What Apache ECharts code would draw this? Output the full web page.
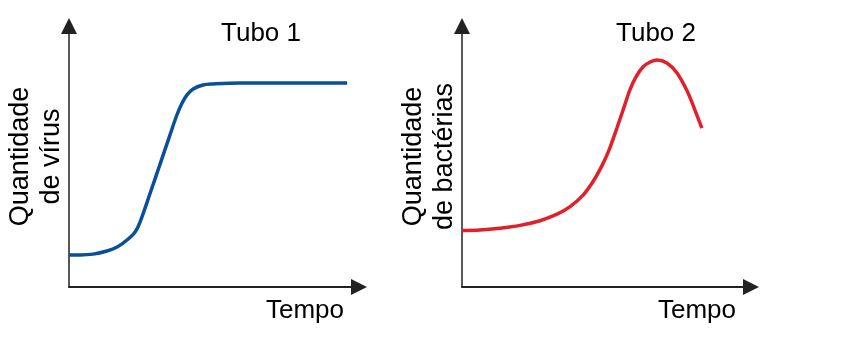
<!DOCTYPE html>
<html>
<head>
    <meta charset="utf-8">
    <title>Tubo 1 e Tubo 2</title>
    <script src="https://cdn.jsdelivr.net/npm/echarts@6/dist/echarts.min.js"></script>
    <style>
        html, body { margin: 0; padding: 0; background: #fff; }
        #main { width: 853px; height: 353px; }
    </style>
</head>
<body>
    <div id="main"></div>
    <script type="text/javascript">
        // Tubo 1 - quantidade de vírus ao longo do tempo
        var tempo1 = [0, 3.8, 8.3, 13.1, 16.6, 20.0, 22.8, 24.5, 28.0, 31.4, 34.8, 37.2, 39.0, 40.7, 42.8, 46.2, 49.7, 59.0, 95.9];
        var virus = [12.3, 12.3, 12.6, 13.8, 15.3, 18.0, 21.1, 24.9, 36.0, 47.1, 58.2, 65.9, 70.5, 73.6, 75.9, 77.4, 77.8, 78.2, 78.2];

        // Tubo 2 - quantidade de bactérias ao longo do tempo
        var tempo2 = [0, 6.2, 13.1, 20.1, 27.0, 32.9, 37.4, 41.9, 45.3, 48.4, 50.9, 53.6, 56.1, 58.1, 60.2, 62.6, 65.1, 67.5, 70.9, 74.4, 77.9, 80.6, 83.0];
        var bacterias = [21.6, 21.8, 22.5, 23.6, 25.4, 27.9, 30.8, 35.2, 40.3, 46.4, 52.5, 60.9, 69.0, 75.5, 80.5, 84.3, 86.2, 87.0, 85.8, 82.0, 75.1, 67.8, 60.9];

        var titulos = ['Tubo 1', 'Tubo 2'];
        var nomesY = ['Quantidade\nde vírus', 'Quantidade\nde bactérias'];
        var nomeX = 'Tempo';

        var fonte = "'Liberation Sans', Arial, sans-serif";

        function pares(xs, ys) {
            return xs.map(function (x, i) { return [x, ys[i]]; });
        }

        function eixoX(idx) {
            return {
                type: 'value', gridIndex: idx, min: 0, max: 100,
                name: nomeX, nameLocation: 'end', nameGap: -15,
                nameTextStyle: {
                    fontFamily: fonte, fontSize: 26, color: '#000',
                    align: 'right', verticalAlign: 'top', padding: [11, 0, 0, 0]
                },
                axisLine: {
                    symbol: ['none', 'triangle'], symbolSize: [16, 16],
                    lineStyle: { color: '#222', width: 2 }
                },
                axisTick: { show: false }, axisLabel: { show: false }, splitLine: { show: false }
            };
        }

        function eixoY(idx) {
            return {
                type: 'value', gridIndex: idx, min: 0, max: 100,
                name: nomesY[idx], nameLocation: 'middle', nameGap: 2,
                nameTextStyle: {
                    fontFamily: fonte, fontSize: 27, color: '#000', lineHeight: 31
                },
                axisLine: {
                    symbol: ['none', 'triangle'], symbolSize: [16, 16],
                    lineStyle: { color: '#222', width: 1.5 }
                },
                axisTick: { show: false }, axisLabel: { show: false }, splitLine: { show: false }
            };
        }

        var myChart = echarts.init(document.getElementById('main'));

        var option = {
            animation: false,
            backgroundColor: '#fff',
            title: [
                { text: titulos[0], left: 261, top: 21, textAlign: 'center', padding: 0,
                  textStyle: { fontFamily: fonte, fontSize: 26, fontWeight: 'normal', color: '#000' } },
                { text: titulos[1], left: 656, top: 21, textAlign: 'center', padding: 0,
                  textStyle: { fontFamily: fonte, fontSize: 26, fontWeight: 'normal', color: '#000' } }
            ],
            grid: [
                { left: 69, top: 26, width: 290, height: 261, outerBoundsMode: 'none' },
                { left: 462, top: 26, width: 289, height: 261, outerBoundsMode: 'none' }
            ],
            xAxis: [eixoX(0), eixoX(1)],
            yAxis: [eixoY(0), eixoY(1)],
            series: [
                {
                    type: 'line', xAxisIndex: 0, yAxisIndex: 0,
                    data: pares(tempo1, virus),
                    smooth: 0.35, symbol: 'none',
                    lineStyle: { color: '#0b4f9a', width: 3.5 }
                },
                {
                    type: 'line', xAxisIndex: 1, yAxisIndex: 1,
                    data: pares(tempo2, bacterias),
                    smooth: 0.35, symbol: 'none',
                    lineStyle: { color: '#e0202a', width: 3.5 }
                }
            ]
        };

        myChart.setOption(option);
    </script>
</body>
</html>
